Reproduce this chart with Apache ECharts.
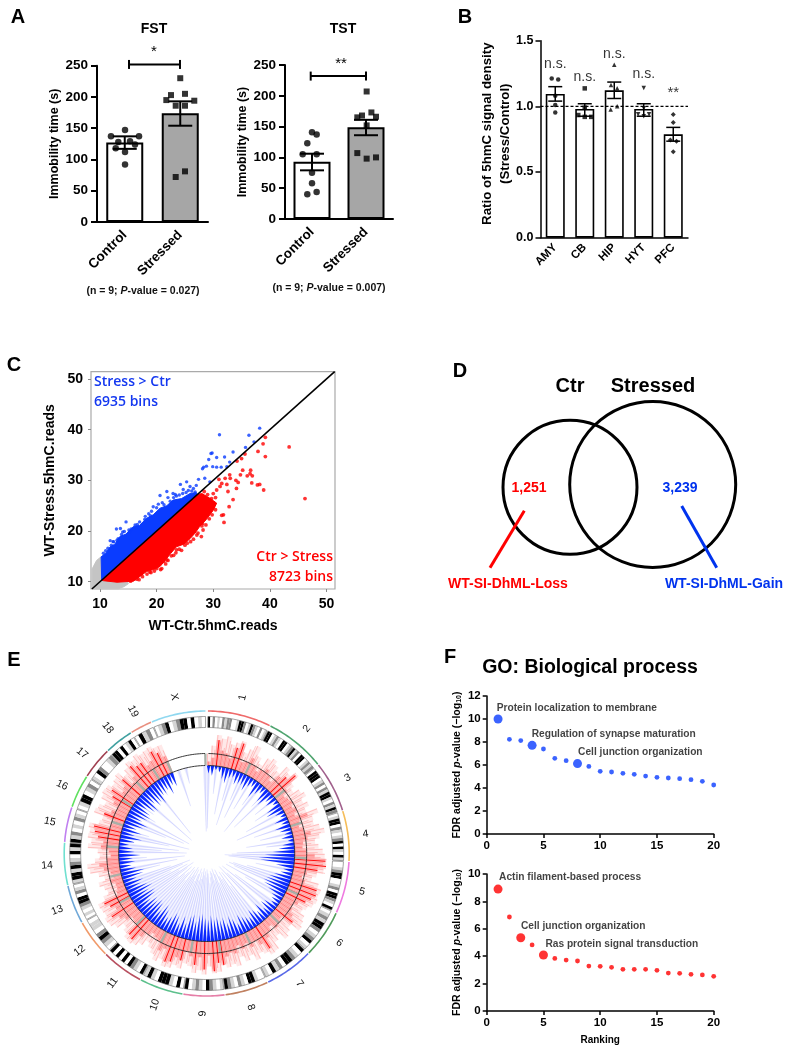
<!DOCTYPE html>
<html><head><meta charset="utf-8">
<style>html,body{margin:0;padding:0;background:#fff}#c{width:796px;height:1050px}</style>
<script src="https://cdn.jsdelivr.net/npm/echarts@6/dist/echarts.min.js"></script>
</head><body><div id="c"></div>
<script>
// ---------- Panel A ----------
const groupCats = ['Control', 'Stressed'];
const fstMeans = [127, 174];
const fstErrLow = [117, 154];
const fstErrHigh = [137, 193];
const fstControlPts = [[0.505,147],[0.252,137],[0.757,137],[0.384,128],[0.595,129],[0.685,124],[0.337,118],[0.505,112],[0.505,92]];
const fstStressedPts = [[1.50,230],[1.333,203],[1.586,205],[1.249,195],[1.753,194],[1.418,186],[1.586,186],[1.586,81],[1.418,72]];
const tstMeans = [93, 149];
const tstErrLow = [79, 136];
const tstErrHigh = [106, 161];
const tstControlPts = [[0.5,141],[0.586,137],[0.413,123],[0.327,105],[0.586,105],[0.5,75],[0.5,58],[0.586,44],[0.413,40]];
const tstStressedPts = [[1.512,207],[1.6,173],[1.426,168],[1.339,165],[1.685,166],[1.512,152],[1.339,107],[1.685,100],[1.512,98]];
// ---------- Panel B ----------
const regionCats = ['AMY','CB','HIP','HYT','PFC'];
const ratioMeans = [1.094,0.98,1.122,0.98,0.787];
const ratioErrLow = [1.04,0.925,1.06,0.925,0.735];
const ratioErrHigh = [1.15,1.02,1.185,1.02,0.84];
const ratioPts = [
  [[0.38,1.213],[0.6,1.205],[0.5,1.08],[0.5,1.01],[0.5,0.954]],
  [[1.5,1.137],[1.5,0.99],[1.28,0.934],[1.5,0.92],[1.72,0.92]],
  [[2.5,1.317],[2.39,1.162],[2.6,1.137],[2.6,1.0],[2.38,0.977]],
  [[3.5,1.14],[3.5,0.985],[3.31,0.94],[3.5,0.925],[3.68,0.94]],
  [[4.5,0.939],[4.5,0.878],[4.4,0.743],[4.61,0.735],[4.5,0.655]]
];
const ratioSigLabels = [[0.5,1.32,'n.s.'],[1.5,1.226,'n.s.'],[2.5,1.398,'n.s.'],[3.5,1.246,'n.s.'],[4.5,1.10,'**']];
// ---------- Panel C ----------
const scatterTicks = [10,20,30,40,50];
const grayRegion = [[8.6,8.6],[8.6,12.5],[9.4,14.2],[10.3,15],[10.3,10.3],[14.8,10.2],[15,9.6],[14.2,9],[13.2,8.6]];
const blueRegion = [[10.3,10.3],[10.2,14.9],[11,15.6],[11.8,16.9],[12.6,17.4],[13.5,18.9],[14.6,19.4],[15.9,20.9],[17,21.1],[18.2,22.5],[19.4,23.2],[20.6,24.5],[21.8,25],[22.9,26.1],[24.4,26.4],[25.9,27.4],[27,27.6],[27.2,27.2]];
const redRegion = [[10.3,10.3],[10.6,10.2],[13,9.9],[15.9,10.1],[17,11],[18.2,12],[19.5,12.4],[20.6,13],[21.5,14.2],[22.5,15.6],[23.5,16.9],[24.8,17.4],[25.9,18.5],[26.8,19.6],[27.6,20.9],[28.8,22.3],[30,24.1],[30.6,25.5],[29.5,26.4],[28,27.4],[27.2,27.2]];
const blueOutliers = [[31.1,39],[38.2,40.3],[36.3,38.9],[37.2,37.6],[35.7,36.5],[33.5,35.6],[29.6,35.3],[29.8,35.4],[29.2,34.1],[30.6,34.5],[32,34.6],[32.9,33.6],[28.1,32.3],[28.8,32.8],[29.9,32.7],[30.6,32.6],[31.4,32.6],[32.4,32.7],[28.3,32.6],[27.4,30.2],[28.5,30.4],[29.4,29.7],[25.3,29.7],[24.2,29.2],[25.9,28.8],[22.9,27.4],[21.8,27.8],[20.6,27],[23.3,27.2],[22,26.6],[24.7,28.2],[26.5,28.4],[27,29],[14.6,21.8],[12.9,20.4],[13.6,20.5],[16.2,21.2],[17,21.8],[17.9,22.3],[19.4,24.8],[19.1,23.9],[20.3,25.3],[18.6,23.4],[11.8,18.1],[13.2,18.5],[12.3,17.9],[15.1,20.2],[14,19.8],[21,25.6],[23.5,26.9],[24.6,27.4],[11,16.1],[11.4,16.6],[12.4,17.9],[13,18.2],[14.3,19.9],[15.5,20.4],[16.6,21.3],[18,22.9],[18.9,23],[20,24.6],[21.3,25.2],[22.4,25.9],[23,26.6],[24,27.1],[25.2,27.6],[25.6,28],[26.2,27.9],[26.8,27.7],[10.6,15.6],[12,17.2],[13.8,19.3],[15.2,19.8],[16.4,20.7]];
const redOutliers = [[43.4,36.6],[46.2,26.4],[39.2,38.5],[38.8,37.2],[37.9,35.7],[39.2,34.7],[35.6,35.2],[35,34.3],[34.2,33.8],[36.6,32],[36.5,31.3],[36,30.9],[36.9,30.9],[35.2,32],[34.8,31.1],[34,30],[34.4,29.6],[36.8,29.5],[37.8,29.1],[38.2,29.2],[38.9,28.1],[33.5,26.2],[32.8,24.8],[31.8,23.2],[31.5,23.1],[31.9,21.7],[32.6,27.8],[34.1,28.4],[32.9,31.1],[32.1,30.4],[31.5,29.4],[31.2,28.8],[30.6,28.1],[29.7,26.4],[30,25.5],[29.1,24.8],[28.2,23.5],[28.1,21.5],[27.9,18.9],[27.1,19.2],[24.7,17.9],[23.5,16.3],[20.9,12.6],[21.8,14.3],[30.4,26.6],[29,27.2],[28.4,27.8],[30,27.4],[31,30.2],[32.4,29.2],[33,30.4],[26.8,20.4],[25.4,17.6],[22.6,15.1],[19.6,12.1],[21.2,14],[18.8,11.9],[29.4,25.6],[28.6,24.9],[28,21],[16.5,10.5],[17.5,11],[18.3,11.5],[19,11.8],[20,12.6],[20.7,12.4],[22,14.2],[23,15.2],[24,16.4],[24.4,16.2],[25,17.2],[26,17.9],[26.5,18.4],[27.3,19.6],[28.2,20.2],[28.7,21.2],[29.3,22.4],[29.8,23.2],[30.4,24.2],[15.4,10.1],[16.9,10.4],[21.6,13.5],[23.4,15.7]];
// ---------- Panel D ----------
const vennCircles = [[140,137.3,67],[222.7,134.5,83]];
const vennLossLine = [[94.3,160.7],[60,217.7]];
const vennGainLine = [[251.7,156],[286.7,217.7]];
// ---------- Panel E ----------
const chromNames = ['1','2','3','4','5','6','7','8','9','10','11','12','13','14','15','16','17','18','19','X'];
const chromEnds = [26.2,51.2,72.3,93,114.4,134.2,154.4,172.4,189.4,207.5,224.9,240.8,256.8,274.3,288.8,302.6,315.8,327.8,337,359.5];
const chromColors = ['#ef6a6a','#4fa46f','#a0608c','#f5bd5a','#ee7ae0','#4f9a5a','#5a6ae8','#c08060','#e67fa8','#5cc08c','#b85060','#f09a6a','#70a8d8','#70e0d0','#c080f0','#60e060','#a04050','#40a0a0','#e89080','#90d8f0'];
const chromLabelAngles = [13,38.7,61.8,83,103.8,124,144.5,164,181.4,198.9,216,232.6,249.2,265.7,281.5,295.3,308.8,321.8,332.6,348.3];
const chromBands = [
 '3020102122001332013210201',
 '33012103301231203301212',
 '033301202133102132',
 '01330210123031031',
 '00123300120332103',
 '0121332012301',
 '301233021301',
 '001330120123',
 '10123012103',
 '03013330131',
 '30123030303',
 '012320110',
 '01012330210',
 '13313210313',
 '312010210',
 '01330120',
 '10320012',
 '33030130',
 '03120',
 '01230123303010'
];
const redPale = [100,108,119,116,119,112,115,118,108,113, 119,110,104,113,116,112,108,118,114,120, 110,106,112,115,109,113,108,119,112,111, 116,120,114,109,112,116,118,120,117,118, 112,108,116,120,119,120,118,114,111,116, 118,120,110,113,116,108,112,119,120,116, 113,118,111,115,109,117,114,116,112,119, 120,113,121,117,120,114,112,118,116,120, 121,115,119,114,110,106,112,116,118,117, 113,109,116,120,121,118,119,120,112,106, 108,112,105,110,118,120,112,107,109,119, 116,120,119,121,112,110,120,118,113,119, 121,120,116,118,120,113,117,121,119,122, 119,120,121,118,118,0,0,0,0,0, 0,0,0,0];
const redPaleB = [0,104,112,107,115,109,110,114,104,118, 111,106,100,108,112,106,104,114,110,116, 106,102,108,111,104,108,104,114,107,108, 110,116,110,105,108,111,114,117,112,120, 108,104,112,116,116,117,115,110,108,112, 114,116,106,108,112,104,108,114,118,112, 109,114,107,111,105,112,110,112,108,115, 116,110,118,113,116,110,108,114,112,117, 118,111,115,110,106,102,108,112,115,113, 109,105,112,117,118,114,116,116,108,102, 104,108,102,106,114,116,108,104,105,115, 112,116,115,118,108,106,116,114,110,115, 118,116,112,114,116,110,113,118,115,119, 115,116,118,114,112,0,0,0,0,0, 0,0,0,0];
const redCore = [92,96,114,104,102,98,110,116,98,100, 106,100,96,100,104,100,96,106,110,118, 102,96,98,100,97,100,96,108,98,96, 100,106,102,97,96,100,108,119,120,112, 102,98,102,116,117,114,110,104,100,102, 106,110,98,100,102,96,100,104,114,106, 100,104,98,102,97,104,102,105,113,110, 118,102,116,104,112,104,100,110,108,114, 116,104,108,100,98,96,100,106,114,112, 100,98,104,108,114,106,110,114,98,96, 96,100,96,98,104,108,100,96,98,106, 104,110,114,116,100,98,110,104,100,106, 110,114,104,106,112,102,106,116,112,112, 106,108,116,112,106,0,0,0,0,0, 0,0,0,0];
const blueCore = [80,78,84,82,76,72,78,80,74,76, 76,72,78,80,70,76,80,72,70,78, 76,82,72,70,78,82,74,80,72,76, 80,76,82,76,72,66,58,52,54,70, 78,76,70,66,64,62,64,70,76,78, 80,74,72,78,70,76,72,70,76,74, 72,68,76,70,66,72,66,68,64,66, 62,66,64,60,62,68,62,64,72,66, 74,68,66,72,74,68,64,72,66,64, 68,66,72,64,62,68,62,66,72,68, 74,66,64,72,76,72,74,66,72,74, 78,72,66,74,68,74,68,64,72,68, 66,68,74,66,64,72,66,68,64,72, 72,74,68,76,74,0,0,0,0,0, 0,0,0,0];
const bluePale = [25,0,60,0,40,0,55,30,0,58, 40,0,52,0,60,28,0,65,38,0, 62,0,58,0,45,0,33,0,50,0, 55,0,40,60,0,30,25,18,22,0, 50,0,42,28,24,30,0,22,45,0, 35,20,0,28,18,0,24,40,22,30, 26,18,32,22,16,28,20,18,24,30, 20,16,24,18,22,15,26,19,28,16, 22,30,18,25,16,28,20,34,18,26, 30,20,36,24,16,32,22,40,26,18, 38,0,48,30,0,22,60,0,20,45, 28,0,38,18,60,0,44,25,0,20, 60,0,66,0,20,72,0,78,26,0, 70,0,78,0,74,0,50,0,72,0, 0,0,0,22];
// ---------- Panel F ----------
const goBlueValues = [10,8.23,8.12,7.71,7.39,6.58,6.38,6.12,5.88,5.45,5.39,5.28,5.19,5.04,4.93,4.87,4.81,4.72,4.58,4.26];
const goBlueLarge = [1,4,8];
const goBlueLabels = [[0.88,10.98,'Protein localization to membrane'],[3.96,8.7,'Regulation of synapse maturation'],[8.05,7.07,'Cell junction organization']];
const goRedValues = [8.9,6.86,5.35,4.82,4.09,3.84,3.72,3.65,3.28,3.26,3.19,3.04,3.04,3.04,2.97,2.77,2.75,2.68,2.63,2.53];
const goRedLarge = [1,3,5];
const goRedLabels = [[1.09,9.78,'Actin filament-based process'],[3.02,6.16,'Cell junction organization'],[5.17,4.84,'Ras protein signal transduction']];

// ---------- Build ----------
const F = '"Liberation Sans", Arial, sans-serif';
const grid=[], xAxis=[], yAxis=[], series=[];
const font=(s,w)=>`${w||'bold'} ${s}px ${F}`;
const ts=(s,w,c)=>({fontFamily:F,fontSize:s,fontWeight:w||'bold',color:c||'#000'});
function addGrid(g){grid.push(g);return grid.length-1;}
function hiddenX(gi,min,max,inverse){xAxis.push({type:'value',gridIndex:gi,min,max,show:false,inverse:!!inverse});return xAxis.length-1;}
function errSeries(xi,yi,lo,hi,capPx,lw){
  return {type:'custom',xAxisIndex:xi,yAxisIndex:yi,z:6,silent:true,encode:{x:0,y:[1,2]},
    data:lo.map((v,i)=>[i+0.5,v,hi[i]]),
    renderItem:(p,api)=>{
      const a=api.coord([api.value(0),api.value(1)]),b=api.coord([api.value(0),api.value(2)]);
      const st={stroke:'#000',lineWidth:lw,fill:null};
      return {type:'group',children:[
        {type:'line',shape:{x1:a[0],y1:a[1],x2:b[0],y2:b[1]},style:st},
        {type:'line',shape:{x1:a[0]-capPx,y1:a[1],x2:a[0]+capPx,y2:a[1]},style:st},
        {type:'line',shape:{x1:b[0]-capPx,y1:b[1],x2:b[0]+capPx,y2:b[1]},style:st}]};
    }};
}
function bracket(xi,yi,x1,x2,y){
  return {type:'custom',xAxisIndex:xi,yAxisIndex:yi,z:6,silent:true,clip:false,encode:{x:[0,1],y:2},data:[[x1,x2,y]],
    renderItem:(p,api)=>{
      const a=api.coord([api.value(0),api.value(2)]),b=api.coord([api.value(1),api.value(2)]);
      const st={stroke:'#000',lineWidth:2,fill:null};
      return {type:'group',children:[
       {type:'line',shape:{x1:a[0],y1:a[1],x2:b[0],y2:b[1]},style:st},
       {type:'line',shape:{x1:a[0],y1:a[1]-4.5,x2:a[0],y2:a[1]+4.5},style:st},
       {type:'line',shape:{x1:b[0],y1:b[1]-4.5,x2:b[0],y2:b[1]+4.5},style:st}]};
    }};
}
function immobility(left,top,width,height,means,lo,hi,ctrl,str,br){
  const gi=addGrid({left,top,width,height});
  xAxis.push({type:'category',gridIndex:gi,data:groupCats,
    axisLine:{lineStyle:{color:'#000',width:2}},axisTick:{alignWithLabel:true,length:6,lineStyle:{width:2,color:'#000'}},
    axisLabel:{rotate:45,...ts(13.5),margin:11,interval:0}});
  const ci=xAxis.length-1;
  const xi=hiddenX(gi,0,2);
  yAxis.push({type:'value',gridIndex:gi,min:0,max:250,interval:50,splitLine:{show:false},
    axisLine:{show:true,lineStyle:{color:'#000',width:2}},axisTick:{show:true,length:6,lineStyle:{width:2,color:'#000'}},
    axisLabel:{...ts(13.5),margin:9},
    name:'Immobility time (s)',nameLocation:'middle',nameGap:36,nameTextStyle:ts(12.5)});
  const yi=yAxis.length-1;
  series.push({type:'bar',xAxisIndex:ci,yAxisIndex:yi,barWidth:37,z:2,silent:true,
    data:[{value:means[0],itemStyle:{color:'#fff',borderColor:'#000',borderWidth:2}},{value:means[1],itemStyle:{color:'#a6a6a6',borderColor:'#000',borderWidth:2}}]});
  series.push({type:'scatter',xAxisIndex:xi,yAxisIndex:yi,symbol:'circle',symbolSize:6.5,z:5,silent:true,itemStyle:{color:'#000'},data:ctrl});
  series.push({type:'scatter',xAxisIndex:xi,yAxisIndex:yi,symbol:'rect',symbolSize:6,z:5,silent:true,itemStyle:{color:'#000'},data:str});
  series.push(errSeries(xi,yi,lo,hi,12,2));
  series.push(bracket(xi,yi,br[0],br[1],br[2]));
}
immobility(97,65.7,111,156.3,fstMeans,fstErrLow,fstErrHigh,fstControlPts,fstStressedPts,[0.577,1.495,252]);
immobility(285,65,108,154,tstMeans,tstErrLow,tstErrHigh,tstControlPts,tstStressedPts,[0.476,1.5,232]);

// Panel B
{
  const gi=addGrid({left:540.5,top:40.7,width:147.5,height:197});
  xAxis.push({type:'category',gridIndex:gi,data:regionCats,
    axisLine:{lineStyle:{color:'#000',width:1.5}},axisTick:{alignWithLabel:true,length:5,lineStyle:{width:1.5,color:'#000'}},
    axisLabel:{rotate:45,...ts(11.5),margin:8,interval:0}});
  const ci=xAxis.length-1;
  const xi=hiddenX(gi,0,5);
  yAxis.push({type:'value',gridIndex:gi,min:0,max:1.5,interval:0.5,splitLine:{show:false},
    axisLine:{show:true,lineStyle:{color:'#000',width:1.5}},axisTick:{show:true,length:5,lineStyle:{width:1.5,color:'#000'}},
    axisLabel:{...ts(12.5),margin:7,formatter:v=>v.toFixed(1)},
    name:'{a|Ratio of 5hmC signal density}\n{a|(Stress/Control)}',nameLocation:'middle',nameGap:25,
    nameTextStyle:{padding:[0,0,0,11],rich:{a:{...ts(13.3,'bold'),lineHeight:18}}}});
  const yi=yAxis.length-1;
  series.push({type:'bar',xAxisIndex:ci,yAxisIndex:yi,barWidth:19,z:2,silent:true,itemStyle:{color:'#fff',borderColor:'#000',borderWidth:1.6},data:ratioMeans});
  const syms=['circle','rect','triangle','triangle','diamond'];
  ratioPts.forEach((pts,i)=>series.push({type:'scatter',xAxisIndex:xi,yAxisIndex:yi,symbol:syms[i],symbolRotate:i===3?180:0,symbolSize:i===4?5:4.5,z:5,silent:true,itemStyle:{color:'#000'},data:pts}));
  series.push(errSeries(xi,yi,ratioErrLow,ratioErrHigh,7,1.5));
  series.push({type:'line',xAxisIndex:xi,yAxisIndex:yi,symbol:'none',silent:true,z:7,lineStyle:{color:'#000',width:1.2,type:[3,2]},data:[[0,1],[5,1]]});
  series.push({type:'scatter',xAxisIndex:xi,yAxisIndex:yi,symbolSize:0,z:8,silent:true,data:ratioSigLabels.map(d=>({value:[d[0],d[1]],label:{show:true,position:'inside',formatter:d[2],...ts(d[2]==='**'?15:14,'500')}}))});
}

// Panel C
function poly(xi,yi,pts,color,z){
  return {type:'custom',xAxisIndex:xi,yAxisIndex:yi,z,silent:true,clip:false,encode:{x:0,y:1},data:pts,
    renderItem:(p,api)=>{
      if(p.dataIndex!==0) return null;
      return {type:'polygon',shape:{points:pts.map(q=>api.coord(q))},style:{fill:color,stroke:color,lineWidth:1}};
    }};
}
{
  const gi=addGrid({left:91,top:371.7,width:244,height:217.3,show:true,borderColor:'#aaa',borderWidth:1.2,backgroundColor:'#fff'});
  const lab={...ts(14),margin:8,customValues:scatterTicks};
  xAxis.push({type:'value',gridIndex:gi,min:8.41,max:51.5,splitLine:{show:false},axisLine:{show:false},
    axisTick:{show:true,length:3,lineStyle:{color:'#888'},customValues:scatterTicks},axisLabel:lab,
    name:'WT-Ctr.5hmC.reads',nameLocation:'middle',nameGap:30,nameTextStyle:ts(14)});
  yAxis.push({type:'value',gridIndex:gi,min:8.56,max:51.44,splitLine:{show:false},axisLine:{show:false},
    axisTick:{show:true,length:3,lineStyle:{color:'#888'},customValues:scatterTicks},axisLabel:lab,
    name:'WT-Stress.5hmC.reads',nameLocation:'middle',nameGap:34,nameTextStyle:ts(14)});
  const xi=xAxis.length-1, yi=yAxis.length-1;
  series.push(poly(xi,yi,grayRegion,'#c4c4c4',3));
  series.push(poly(xi,yi,blueRegion,'#0a3cff',4));
  series.push(poly(xi,yi,redRegion,'#ff0000',4));
  series.push({type:'scatter',xAxisIndex:xi,yAxisIndex:yi,symbolSize:3.4,z:5,silent:true,itemStyle:{color:'#0a3cff'},data:blueOutliers});
  series.push({type:'scatter',xAxisIndex:xi,yAxisIndex:yi,symbolSize:3.8,z:5,silent:true,itemStyle:{color:'#ff0000'},data:redOutliers});
  series.push({type:'line',xAxisIndex:xi,yAxisIndex:yi,symbol:'none',silent:true,z:6,lineStyle:{color:'#000',width:1.6},data:[[8.56,8.56],[51.44,51.44]]});
}

// Panel D
{
  const gi=addGrid({left:430,top:350,width:340,height:260});
  xAxis.push({type:'value',gridIndex:gi,min:0,max:340,show:false});
  yAxis.push({type:'value',gridIndex:gi,min:0,max:260,inverse:true,show:false});
  const xi=xAxis.length-1, yi=yAxis.length-1;
  series.push({type:'custom',xAxisIndex:xi,yAxisIndex:yi,silent:true,clip:false,encode:{x:0,y:1},data:vennCircles,
    renderItem:(p,api)=>{
      const c=api.coord([api.value(0),api.value(1)]);
      const r=api.size([api.value(2),0])[0];
      return {type:'circle',shape:{cx:c[0],cy:c[1],r},style:{fill:null,stroke:'#000',lineWidth:3}};
    }});
  series.push({type:'line',xAxisIndex:xi,yAxisIndex:yi,symbol:'none',silent:true,lineStyle:{color:'#ff0000',width:3},data:vennLossLine});
  series.push({type:'line',xAxisIndex:xi,yAxisIndex:yi,symbol:'none',silent:true,lineStyle:{color:'#0033ee',width:3},data:vennGainLine});
}

// Panel E
const polar={center:[206.7,853.5],radius:143};
const arcPts=(api,r,a0,a1)=>{const out=[];const n=Math.max(1,Math.ceil(Math.abs(a1-a0)));for(let i=0;i<=n;i++)out.push(api.coord([r,a0+(a1-a0)*i/n]));return out;};
const sector=(api,r0,r1,a0,a1)=>arcPts(api,r1,a0,a1).concat(arcPts(api,r0,a1,a0));
const shade=['#ffffff','#d4d4d4','#8a8a8a','#000000'];
const strongSpike=110;
const spoke=(api,r,ang,color,lw,op)=>{const b=api.coord([88,ang]),c=api.coord([r,ang]);return {type:'line',shape:{x1:b[0],y1:b[1],x2:c[0],y2:c[1]},style:{stroke:color,lineWidth:lw,opacity:op}};};
series.push({type:'custom',coordinateSystem:'polar',silent:true,z:3,data:redPale.map((v,i)=>[i*2.5+1.25,v]),encode:{radius:1,angle:0},
  renderItem:(p,api)=>{
    const i=p.dataIndex, a=i*2.5, kids=[];
    if(redPale[i]) kids.push({type:'polygon',shape:{points:sector(api,88,redPale[i],a,a+2.5)},style:{fill:'rgba(255,70,70,0.12)'}});
    if(redCore[i]){
      kids.push({type:'polygon',shape:{points:sector(api,88,redCore[i],a,a+2.5)},style:{fill:'rgba(255,50,50,0.22)'}});
      kids.push(spoke(api,redCore[i],a+1.25,'#ff0000',redCore[i]>=strongSpike?1.1:.7,redCore[i]>=strongSpike?.95:.5));
    }
    if(redPale[i]) kids.push(spoke(api,redPale[i],a+.45,'#ff3030',.7,.35));
    if(redPaleB[i]) kids.push(spoke(api,redPaleB[i],a+2.05,'#ff3030',.7,.35));
    return {type:'group',children:kids};
  }});
series.push({type:'custom',coordinateSystem:'polar',silent:true,z:3,data:bluePale.map((v,i)=>[i*2.5+1.25,v]),encode:{radius:1,angle:0},
  renderItem:(p,api)=>{
    const i=p.dataIndex, a=i*2.5, kids=[];
    if(bluePale[i]){
      kids.push({type:'polygon',shape:{points:[api.coord([88,a]),api.coord([88,a+2.5]),api.coord([bluePale[i],a+1.25])]},style:{fill:'rgba(50,60,255,0.10)'}});
      kids.push(spoke(api,bluePale[i],a+1.25,'#3040ff',.9,.14));
    }
    if(blueCore[i]){
      kids.push({type:'polygon',shape:{points:[api.coord([88,a+.1]),api.coord([88,a+2.4]),api.coord([blueCore[i],a+1.25])]},style:{fill:'#0a28ff'}});
    }
    return {type:'group',children:kids};
  }});
series.push({type:'custom',coordinateSystem:'polar',silent:true,z:4,data:chromEnds.map((v,i)=>[i,v]),encode:{radius:0,angle:1},
  renderItem:(p,api)=>{
    const i=p.dataIndex, a0=i?chromEnds[i-1]+0.4:0.5, a1=chromEnds[i], kids=[];
    kids.push({type:'polyline',shape:{points:arcPts(api,142.5,a0,a1)},style:{stroke:chromColors[i],lineWidth:1.6,fill:null}});
    const bands=chromBands[i], w=(a1-a0)/bands.length;
    for(let k=0;k<bands.length;k++){
      kids.push({type:'polygon',shape:{points:sector(api,126,137,a0+k*w,a0+(k+1)*w)},style:{fill:shade[+bands[k]]}});
    }
    kids.push({type:'polygon',shape:{points:sector(api,126,137,a0,a1)},style:{fill:null,stroke:'#666',lineWidth:.6}});
    kids.push({type:'polygon',shape:{points:sector(api,88,100,a1-1,a1+.4)},style:{fill:'#a8b0a8'}});
    const q=api.coord([160,chromLabelAngles[i]]);
    const la=chromLabelAngles[i];
    const rot=(la<=180?90-la:270-la)*Math.PI/180;
    kids.push({type:'text',x:q[0],y:q[1],rotation:rot,style:{text:chromNames[i],fill:'#111',font:`10.5px ${F}`,align:'center',verticalAlign:'middle'}});
    return {type:'group',children:kids};
  }});
const annulusRadii=[88,100];
series.push({type:'custom',coordinateSystem:'polar',silent:true,z:5,data:annulusRadii.map(r=>[r,0]),encode:{radius:0,angle:1},
  renderItem:(p,api)=>({type:'polyline',shape:{points:arcPts(api,annulusRadii[p.dataIndex],1,359)},style:{stroke:'#222',lineWidth:.9,fill:null}})});

// Panel F
function goPanel(top,height,ymax,values,large,labels,color,showRanking){
  const gi=addGrid({left:486.7,top,width:227,height});
  const ax={lineStyle:{color:'#000',width:1.5}};
  xAxis.push({type:'value',gridIndex:gi,min:0,max:20,interval:5,splitLine:{show:false},axisLine:ax,
    axisTick:{show:true,length:4,lineStyle:{color:'#000',width:1.5}},axisLabel:{...ts(11.5),margin:6},
    name:showRanking?'Ranking':'',nameLocation:'middle',nameGap:24,nameTextStyle:ts(10)});
  const rich={n:ts(10.5),i:{...ts(10.5),fontStyle:'italic'},s:{...ts(7),verticalAlign:'bottom'}};
  yAxis.push({type:'value',gridIndex:gi,min:0,max:ymax,interval:2,splitLine:{show:false},axisLine:{show:true,...ax},
    axisTick:{show:true,length:4,lineStyle:{color:'#000',width:1.5}},axisLabel:{...ts(11.5),margin:6},
    name:'{n|FDR adjusted }{i|p}{n|-value (\u2212log}{s|10}{n|)}',nameLocation:'middle',nameGap:24,nameTextStyle:{rich}});
  const xi=xAxis.length-1, yi=yAxis.length-1;
  series.push({type:'scatter',xAxisIndex:xi,yAxisIndex:yi,silent:true,z:5,itemStyle:{color},
    symbolSize:(v,p)=>large.includes(p.dataIndex+1)?9:4.8,
    data:values.map((v,i)=>[i+1,v])});
  series.push({type:'scatter',xAxisIndex:xi,yAxisIndex:yi,symbolSize:0,silent:true,z:6,clip:false,
    data:labels.map(d=>({value:[d[0],d[1]],label:{show:true,position:'right',distance:0,formatter:d[2],...ts(10.2,'bold','#111')}}))});
}
goPanel(696,138,12,goBlueValues,goBlueLarge,goBlueLabels,'#0a3cff',false);
goPanel(874,137,10,goRedValues,goRedLarge,goRedLabels,'#ff0000',true);

// Text annotations
const T=(text,x,y,f,fill,align,extra)=>({type:'text',x,y,z:50,style:Object.assign({text,font:f,fill:fill||'#000',align:align||'center',verticalAlign:'middle'},extra||{})});
const footRich={n:{font:font(10.5),fill:'#111',color:'#111'},i:{font:`italic bold 10.5px ${F}`,fill:'#111',color:'#111'}};
const calibri=`600 14px "Open Sans", sans-serif`;
const graphicEls=[
  T('A',18,17,font(20)),T('B',465,17,font(20)),T('C',14,365,font(20)),T('D',460,371,font(20)),T('E',14,660,font(20)),T('F',450,657,font(20)),
  T('FST',154,29,font(14)),T('TST',343,29,font(14)),
  T('*',154,52,font(15,'500')),T('**',341,64,font(15,'500')),
  T('{n|(n = 9; }{i|P}{n|-value = 0.027)}',143,291,font(10.5),'#111','center',{rich:footRich}),
  T('{n|(n = 9; }{i|P}{n|-value = 0.007)}',329,288,font(10.5),'#111','center',{rich:footRich}),
  T('Stress > Ctr',94,382,calibri,'#1438f0','left'),T('6935 bins',94,402,calibri,'#1438f0','left'),
  T('Ctr > Stress',333,557,calibri,'#ff0000','right'),T('8723 bins',333,577,calibri,'#ff0000','right'),
  T('Ctr',570,386,font(20)),T('Stressed',653,386,font(20)),
  T('1,251',529,488,font(14),'#ff0000'),T('3,239',680,488,font(14),'#0033ee'),
  T('WT-SI-DhML-Loss',508,584,font(14),'#ff0000'),T('WT-SI-DhML-Gain',724,584,font(14),'#0033ee'),
  T('GO: Biological process',590,668,font(19.5))
];

const chart=echarts.init(document.getElementById('c'),null,{renderer:'canvas',width:796,height:1050});
chart.setOption({animation:false,backgroundColor:'#fff',tooltip:{show:false},
  grid,xAxis,yAxis,polar,
  angleAxis:{min:0,max:360,startAngle:90,show:false,splitLine:{show:false},axisLine:{show:false},axisTick:{show:false},axisLabel:{show:false}},
  radiusAxis:{min:0,max:143,show:false,splitLine:{show:false},axisLine:{show:false},axisTick:{show:false},axisLabel:{show:false}},
  series,graphic:{elements:graphicEls}});
</script></body></html>
